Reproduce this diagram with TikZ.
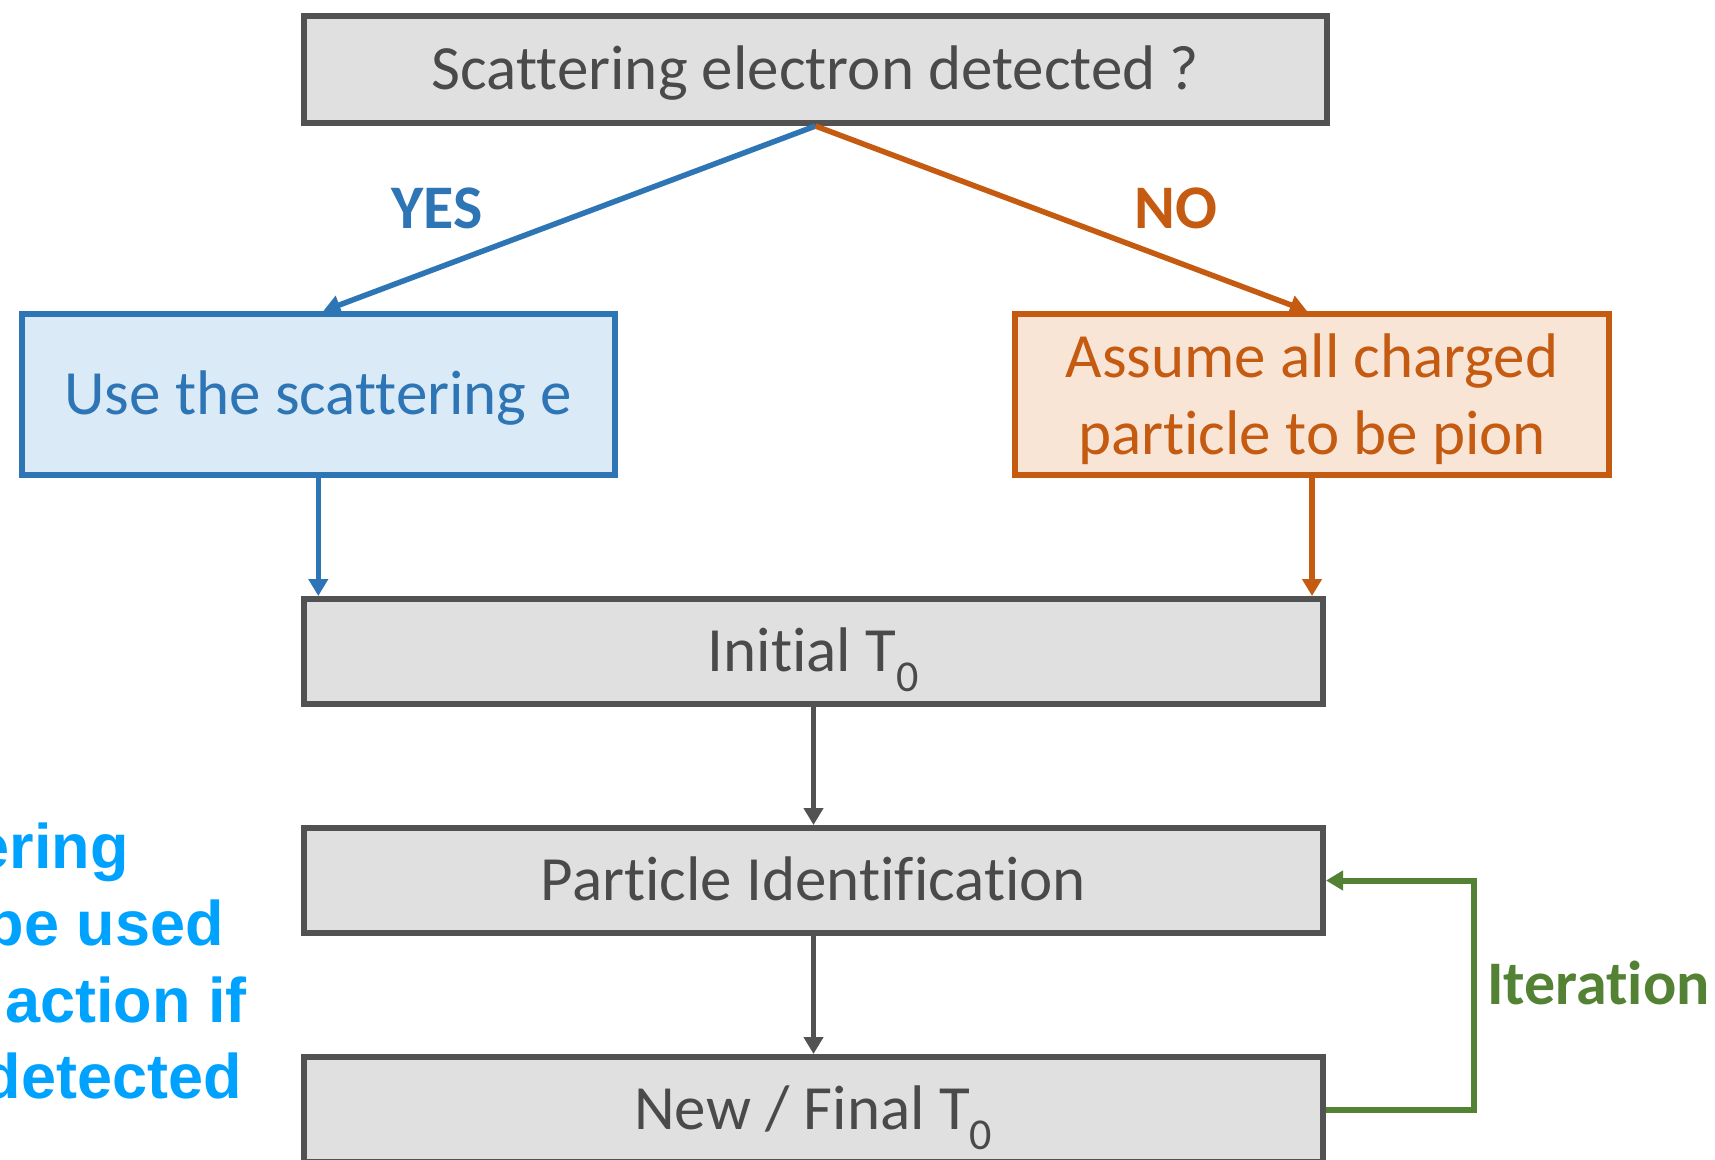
\documentclass[tikz,border=0pt]{standalone}
\usepackage{fontspec}
\setmainfont{Carlito}[Ligatures=NoCommon]
\newfontfamily\helv{Liberation Sans}
\usetikzlibrary{arrows.meta}
\definecolor{grayfill}{HTML}{E0E0E0}
\definecolor{grayline}{HTML}{525252}
\definecolor{graytext}{HTML}{4A4A4A}
\definecolor{blueline}{HTML}{2E75B6}
\definecolor{bluefill}{HTML}{DAEAF6}
\definecolor{orangeline}{HTML}{C55A11}
\definecolor{orangefill}{HTML}{F8E5D6}
\definecolor{greenline}{HTML}{548235}
\definecolor{lblue}{HTML}{00A2FF}
\newcommand{\lowerline}[1]{\raisebox{-5pt}[\height][\depth]{#1}}
\tikzset{
  box/.style={inner sep=0pt, line width=6pt, font=\fontsize{63}{77}\selectfont},
  graybox/.style={box, draw=grayline, fill=grayfill, text=graytext, text height=40.6pt, text depth=0pt},
  bluebox/.style={box, draw=blueline, fill=bluefill, text=blueline, text height=40.6pt, text depth=0pt},
  orangebox/.style={box, draw=orangeline, fill=orangefill, text=orangeline, align=center},
  conn/.style={line width=5.5pt, -{Triangle[width=19pt,length=17pt]}},
  lbl/.style={inner sep=0pt, font=\bfseries\fontsize{62}{74}\selectfont},
  sidetext/.style={inner sep=0pt, anchor=base east, text=lblue, font=\helv\bfseries\fontsize{63}{77}\selectfont}
}
\begin{document}
\begin{tikzpicture}[x=1pt,y=-1pt]
\useasboundingbox (0,0) rectangle (1715,1159);
\clip (0,0) rectangle (1715,1159);
% boxes
\node[graybox, minimum width=1023pt, minimum height=107pt] (top) at (815.5,69.5) {Scattering electron detected ?};
\node[bluebox, minimum width=593pt, minimum height=161pt] (use) at (318.3,394.5) {Use the scattering e};
\node[orangebox, minimum width=594pt, minimum height=161pt] (assume) at (1312,394.5) {\lowerline{Assume all charged}\\\lowerline{particle to be pion}};
\node[graybox, minimum width=1019pt, minimum height=105pt] (init) at (813.5,651.5) {Initial T\textsubscript{0}};
\node[graybox, minimum width=1019pt, minimum height=105pt] (pid) at (813.5,880.5) {Particle Identification};
\node[graybox, minimum width=1019pt, minimum height=105pt] (nf) at (813.5,1109.5) {New / Final T\textsubscript{0}};
% labels
\node[lbl, text=blueline] (yes) at (437,208) {YES};
\node[lbl, text=orangeline] (no) at (1176,208) {NO};
\node[lbl, text=greenline, anchor=base west] (iter) at (1487,1004) {Iteration};
% side text
\node[sidetext] (s1) at (129,868) {ering};
\node[sidetext] (s2) at (224,945) {be used};
\node[sidetext] (s3) at (247,1022) {action if};
\node[sidetext] (s4) at (242,1098) {detected};
% connectors
\draw[conn, blueline] (top.south) -- ([xshift=5pt]use.north);
\draw[conn, orangeline] (top.south) -- ([xshift=-5pt]assume.north);
\draw[conn, blueline] (use.south) -- (use.south |- init.north);
\draw[conn, orangeline] (assume.south) -- (assume.south |- init.north);
\draw[conn, grayline] (init.south) -- (pid.north);
\draw[conn, grayline] (pid.south) -- (nf.north);
\draw[conn, greenline, line width=6pt] (nf.east) -- ++(148,0) |- (pid.east);
\end{tikzpicture}
\end{document}
